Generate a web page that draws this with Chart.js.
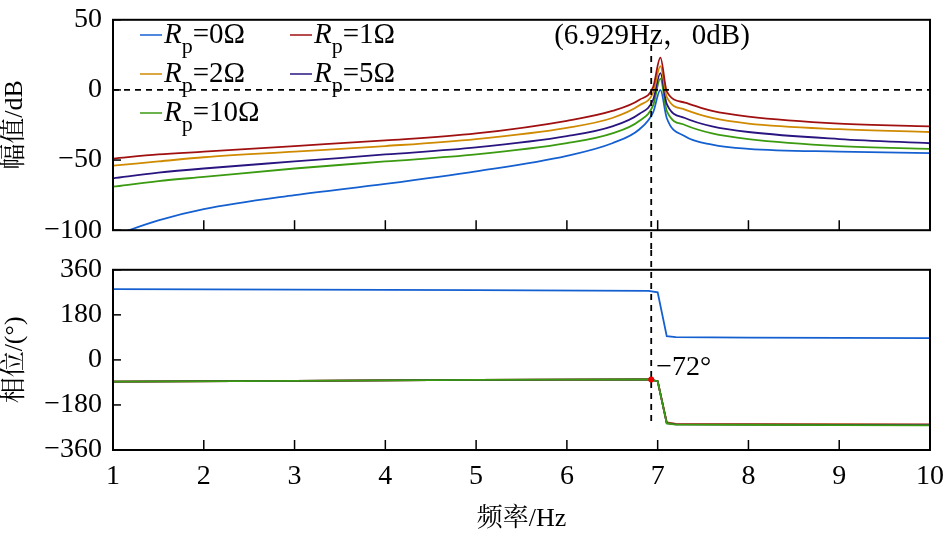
<!DOCTYPE html><html><head><meta charset="utf-8">
<script src="https://cdn.jsdelivr.net/npm/chart.js@4"></script>
<style>body{margin:0;background:#fff;width:947px;height:535px;overflow:hidden}
.c{position:absolute;left:0;width:947px}</style></head><body>
<div class="c" style="top:0;height:250px"><canvas id="a"></canvas></div>
<div class="c" style="top:250px;height:285px"><canvas id="b"></canvas></div>
<script>
const seriesNames=['0Ω','1Ω','2Ω','5Ω','10Ω'];
const colors=['#1560d0','#a01010','#d08a00','#2a1580','#3a9a10'];
const magX=[1,1.5,2,3,4,5,6,6.5,6.8,6.95,7.03,7.1,7.3,7.6,8,9,10];
const mag0=[-104,-93,-85,-75,-67,-58,-47,-38,-28,-16,0,-20,-33,-39,-42,-44,-45];
const mag1=[-49,-46,-44,-40,-36,-31,-22,-15,-7,2,23,-1,-9,-15,-19,-24,-26];
const mag2=[-54,-51,-48,-44,-40,-35,-27,-20,-11,-2,17,-5,-14,-20,-24,-28,-30];
const mag5=[-63,-59,-56,-51,-46,-41,-33,-26,-17,-7,12,-10,-20,-26,-30,-35,-38];
const mag10=[-69,-65,-62,-56,-51,-46,-38,-31,-22,-11,8,-15,-25,-31,-35,-40,-42];
const phX=[1,3,5,6.9,7.0,7.1,7.2,8,10];
const ph0=[283,281,279,276,270,95,91,89,87];
const ph1=[-87,-84,-80,-78,-85,-250,-256,-257,-258];
const ph2=[-87,-84,-80,-78,-85,-252,-257,-258,-260];
const ph5=[-87,-84,-80,-78,-85,-253,-258,-259,-261];
const ph10=[-87,-84,-80,-78,-85,-254,-259,-260,-262];
const xTicks=[1,2,3,4,5,6,7,8,9,10];
const magTicks=[-100,-50,0,50];
const phTicks=[-360,-180,0,180,360];
const FONT='"Liberation Serif","Noto Serif CJK SC","Noto Sans CJK SC",serif';
const mk=(xs,ys)=>xs.map((x,i)=>({x,y:ys[i]}));
function ds(xs,arrs,orders,mono){return arrs.map((a,i)=>({data:mk(xs,a),borderColor:colors[i],borderWidth:1.8,pointRadius:0,
 cubicInterpolationMode:mono?'monotone':'default',tension:mono?0.4:0,fill:false,order:orders[i]}));}
function frame(opts){return {id:'frame',afterDraw(c){const g=c.ctx,a=c.chartArea,x=c.scales.x,y=c.scales.y;g.save();
g.strokeStyle='#000';g.lineWidth=2;g.strokeRect(a.left,a.top,a.right-a.left,a.bottom-a.top);
g.lineWidth=1.5;xTicks.forEach(t=>{const p=x.getPixelForValue(t);g.beginPath();g.moveTo(p,a.bottom);g.lineTo(p,a.bottom-10);g.stroke();});
opts.yt.forEach(t=>{const p=y.getPixelForValue(t);g.beginPath();g.moveTo(a.left,p);g.lineTo(a.left+8,p);g.stroke();});
g.setLineDash([6,5]);g.lineWidth=1.8;const vx=x.getPixelForValue(6.929);
g.beginPath();g.moveTo(vx,opts.v0(c));g.lineTo(vx,opts.v1(c));g.stroke();
if(opts.h){const hy=y.getPixelForValue(0);g.beginPath();g.moveTo(a.left,hy);g.lineTo(a.right,hy);g.stroke();}
g.setLineDash([]);opts.extra&&opts.extra(c,g);g.restore();}};}
function legend(c,g){const pos=[[140,35],[290,35],[140,74],[290,74],[140,113]];
seriesNames.forEach((n,i)=>{const [x,y]=pos[i];g.strokeStyle=colors[i];g.lineWidth=1.5;g.beginPath();g.moveTo(x,y);g.lineTo(x+22,y);g.stroke();
g.fillStyle='#000';g.textBaseline='middle';g.font='italic 29px '+FONT;g.fillText('R',x+24,y);let w=g.measureText('R').width;
g.font='22px '+FONT;g.fillText('p',x+24+w,y+12);let w2=g.measureText('p').width;g.font='29px '+FONT;g.fillText('='+n,x+24+w+w2,y);});
g.font='29px '+FONT;g.textAlign='center';g.fillText('(6.929Hz，0dB)',652,36);}
const minus=v=>String(v).replace('-','−');
function scaleX(show){return {type:'linear',min:1,max:10,display:show,grid:{display:false},border:{display:false},
ticks:{stepSize:1,color:'#000',font:{family:FONT,size:28},padding:2,maxRotation:0},
title:{display:show,text:'频率/Hz',color:'#000',font:{family:FONT,size:26},padding:0},afterFit(s){if(show)s.height=85;}};}
function scaleY(min,max,step,title){return {min,max,grid:{display:false},border:{display:false},
ticks:{stepSize:step,color:'#000',font:{family:FONT,size:28},padding:3,callback:minus},
title:{display:true,text:title,color:'#000',font:{family:FONT,size:26},padding:0},afterFit(s){s.width=113;}};}
const base={responsive:true,maintainAspectRatio:false,animation:false,plugins:{legend:{display:false},tooltip:{enabled:false}}};
new Chart(document.getElementById('a'),{type:'line',data:{datasets:ds(magX,[mag0,mag1,mag2,mag5,mag10],[4,0,1,2,3],true)},
options:{...base,layout:{padding:{top:16,right:17,bottom:18}},scales:{x:scaleX(false),y:scaleY(-100,50,50,'幅值/dB')}},
plugins:[frame({yt:magTicks,h:true,v0:c=>c.scales.y.getPixelForValue(32),v1:c=>250,extra:legend})]});
new Chart(document.getElementById('b'),{type:'line',data:{datasets:ds(phX,[ph0,ph1,ph2,ph5,ph10],[0,4,3,2,1],false)},
options:{...base,layout:{padding:{top:15,right:17}},scales:{x:scaleX(true),y:scaleY(-360,360,180,'相位/(°)')}},
plugins:[frame({yt:phTicks,v0:c=>0,v1:c=>c.scales.y.getPixelForValue(-245),extra:(c,g)=>{
const x=c.scales.x.getPixelForValue(6.929),y=c.scales.y.getPixelForValue(-78);g.fillStyle='#e00';g.beginPath();g.arc(x,y,3,0,7);g.fill();
g.fillStyle='#000';g.font='28px '+FONT;g.textBaseline='middle';g.fillText('−72°',x+5,y-12);}})]});
</script></body></html>
